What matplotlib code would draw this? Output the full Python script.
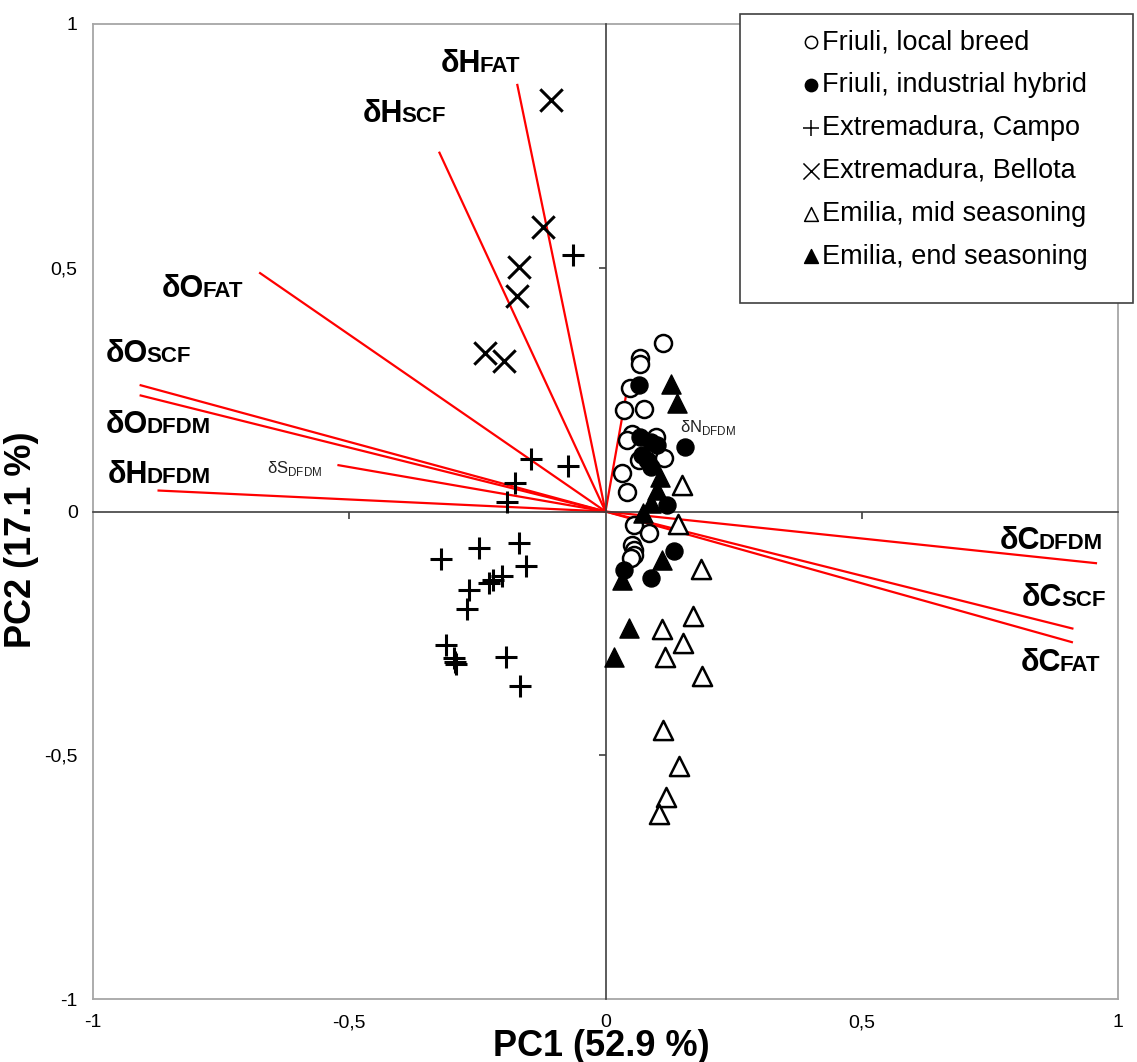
import numpy as np
import matplotlib.pyplot as plt
from matplotlib.patches import Rectangle

plt.rcParams['font.family'] = ['Liberation Sans', 'DejaVu Sans']
plt.rcParams['mathtext.fontset'] = 'custom'
plt.rcParams['mathtext.rm'] = 'Liberation Sans'

# --- scores (PC1, PC2) per group ---
friuli_local_x = [0.113, 0.067, 0.068, 0.047, 0.036, 0.075, 0.052, 0.042, 0.098, 0.114,
                  0.065, 0.033, 0.042, 0.055, 0.085, 0.052, 0.055, 0.055, 0.049]
friuli_local_y = [0.346, 0.315, 0.303, 0.253, 0.208, 0.210, 0.160, 0.147, 0.153, 0.109,
                  0.106, 0.079, 0.041, -0.028, -0.045, -0.069, -0.079, -0.089, -0.096]

friuli_ind_x = [0.065, 0.068, 0.088, 0.101, 0.156, 0.072, 0.081, 0.088, 0.120, 0.133, 0.036, 0.088]
friuli_ind_y = [0.259, 0.153, 0.143, 0.136, 0.133, 0.116, 0.106, 0.092, 0.013, -0.082, -0.120, -0.137]

campo_x = [-0.064, -0.145, -0.074, -0.176, -0.193, -0.321, -0.247, -0.168, -0.156, -0.202,
           -0.220, -0.228, -0.267, -0.270, -0.311, -0.296, -0.293, -0.291, -0.195, -0.166]
campo_y = [0.526, 0.107, 0.093, 0.058, 0.020, -0.098, -0.074, -0.064, -0.111, -0.132,
           -0.141, -0.147, -0.162, -0.201, -0.274, -0.301, -0.308, -0.313, -0.299, -0.358]

bellota_x = [-0.107, -0.122, -0.168, -0.172, -0.236, -0.199]
bellota_y = [0.844, 0.583, 0.501, 0.443, 0.326, 0.309]

emilia_mid_x = [0.150, 0.141, 0.186, 0.171, 0.111, 0.152, 0.117, 0.188, 0.113, 0.143, 0.119, 0.105]
emilia_mid_y = [0.054, -0.026, -0.118, -0.214, -0.240, -0.270, -0.299, -0.337, -0.448, -0.523, -0.585, -0.621]

emilia_end_x = [0.128, 0.140, 0.107, 0.101, 0.088, 0.074, 0.111, 0.033, 0.046, 0.016]
emilia_end_y = [0.262, 0.222, 0.071, 0.044, 0.017, -0.003, -0.099, -0.141, -0.238, -0.299]

# --- loadings ---
load_names = ['H_FAT', 'H_SCF', 'O_FAT', 'O_SCF', 'O_DFDM', 'S_DFDM', 'H_DFDM', 'N_DFDM',
              'C_DFDM', 'C_SCF', 'C_FAT']
load_x = [-0.172, -0.324, -0.674, -0.907, -0.907, -0.521, -0.872, 0.041, 0.957, 0.911, 0.910]
load_y = [0.875, 0.736, 0.489, 0.259, 0.238, 0.095, 0.043, 0.244, -0.106, -0.240, -0.268]

tick_vals = [-1, -0.5, 0, 0.5, 1]
tick_labels = ['-1', '-0,5', '0', '0,5', '1']

# label anchors (left, baseline) for the loading names
label_pos = {
    'H_FAT': (-0.322, 0.902), 'H_SCF': (-0.473, 0.799), 'O_FAT': (-0.865, 0.440),
    'O_SCF': (-0.975, 0.307), 'O_DFDM': (-0.975, 0.161), 'H_DFDM': (-0.971, 0.058),
    'S_DFDM': (-0.660, 0.079), 'N_DFDM': (0.146, 0.163), 'C_DFDM': (0.770, -0.077),
    'C_SCF': (0.813, -0.194), 'C_FAT': (0.811, -0.327),
}
small_labels = ['S_DFDM', 'N_DFDM']

W, H = 1137, 1062
fig = plt.figure(figsize=(W / 100, H / 100), dpi=100)
rect = [93 / W, 63 / H, (1118 - 93) / W, (999 - 24) / H]

# frame + tick labels
ax0 = fig.add_axes(rect)
ax0.set_xlim(-1, 1)
ax0.set_ylim(-1, 1)
ax0.set_xticks(tick_vals)
ax0.set_xticklabels(tick_labels)
ax0.set_yticks(tick_vals)
ax0.set_yticklabels(tick_labels)
ax0.tick_params(length=0, labelsize=14, pad=11)
for s in ax0.spines.values():
    s.set_color('#a6a6a6')
    s.set_linewidth(1.3)
ax0.set_xlabel('PC1 (52.9 %)', fontsize=26, fontweight='bold', va='top')
ax0.set_ylabel('PC2 (17.1 %)', fontsize=26, fontweight='bold')
ax0.xaxis.set_label_coords(0.496, -0.031)
ax0.yaxis.set_label_coords(-0.053, 0.471)

# zero-crossing axes + data
ax = fig.add_axes(rect)
ax.set_xlim(-1, 1)
ax.set_ylim(-1, 1)
ax.patch.set_visible(False)
ax.spines['left'].set_position('zero')
ax.spines['bottom'].set_position('zero')
ax.spines['top'].set_visible(False)
ax.spines['right'].set_visible(False)
for s in ['left', 'bottom']:
    ax.spines[s].set_color('#404040')
    ax.spines[s].set_linewidth(1.2)
ax.set_xticks([-0.5, 0.5])
ax.set_yticks([-0.5, 0.5])
ax.tick_params(direction='out', length=5, width=1.2, color='#404040',
               labelleft=False, labelbottom=False)

for lx, ly in zip(load_x, load_y):
    ax.plot([0, lx], [0, ly], color='red', lw=1.6, zorder=2)

def name_label(key):
    el, sub = key.split('_')
    x, y = label_pos[key]
    if key in small_labels:
        ax.text(x, y, r'$\mathrm{δ' + el + r'}_{\mathrm{' + sub + '}}$', fontsize=12,
                ha='left', va='baseline', color='#222222', zorder=4)
    else:
        t = ax.text(x, y, 'δ' + el, fontsize=22, fontweight='bold', ha='left',
                    va='baseline', zorder=4)
        ax.annotate(sub, xy=(1, 0), xycoords=t, xytext=(-1.2, 1.5), textcoords='offset points',
                    fontsize=16, fontweight='bold', ha='left', va='bottom', zorder=4)

for k in load_names:
    name_label(k)

ms = 150
h1 = ax.scatter(friuli_local_x, friuli_local_y, s=ms, marker='o', facecolors='white',
                edgecolors='black', linewidths=1.8, zorder=3, label='Friuli, local breed')
h2 = ax.scatter(friuli_ind_x, friuli_ind_y, s=ms, marker='o', color='black', zorder=3,
                label='Friuli, industrial hybrid')
h3 = ax.scatter(campo_x, campo_y, s=260, marker='+', color='black', linewidths=2.2, zorder=3,
                label='Extremadura, Campo')
h4 = ax.scatter(bellota_x, bellota_y, s=260, marker='x', color='black', linewidths=2.2, zorder=3,
                label='Extremadura, Bellota')
h5 = ax.scatter(emilia_mid_x, emilia_mid_y, s=190, marker='^', facecolors='white',
                edgecolors='black', linewidths=1.8, zorder=3, label='Emilia, mid seasoning')
h6 = ax.scatter(emilia_end_x, emilia_end_y, s=190, marker='^', color='black', zorder=3,
                label='Emilia, end seasoning')

# legend box
fig.add_artist(Rectangle((740 / W, 1 - 303 / H), (1133 - 740) / W, (303 - 14) / H,
                         transform=fig.transFigure, facecolor='white', edgecolor='#404040',
                         lw=1.2, zorder=4))
leg = fig.legend(handles=[h1, h2, h3, h4, h5, h6], loc='upper left',
                 bbox_to_anchor=(790 / W, 1 - 16 / H), frameon=False, fontsize=19.5,
                 borderpad=0, handlelength=0.55, handletextpad=0.13, labelspacing=0.62,
                 markerscale=0.72)
leg.set_zorder(5)
for hd in leg.legend_handles:
    hd.set_linewidth(1.1)

fig.savefig('out.png', dpi=100)
